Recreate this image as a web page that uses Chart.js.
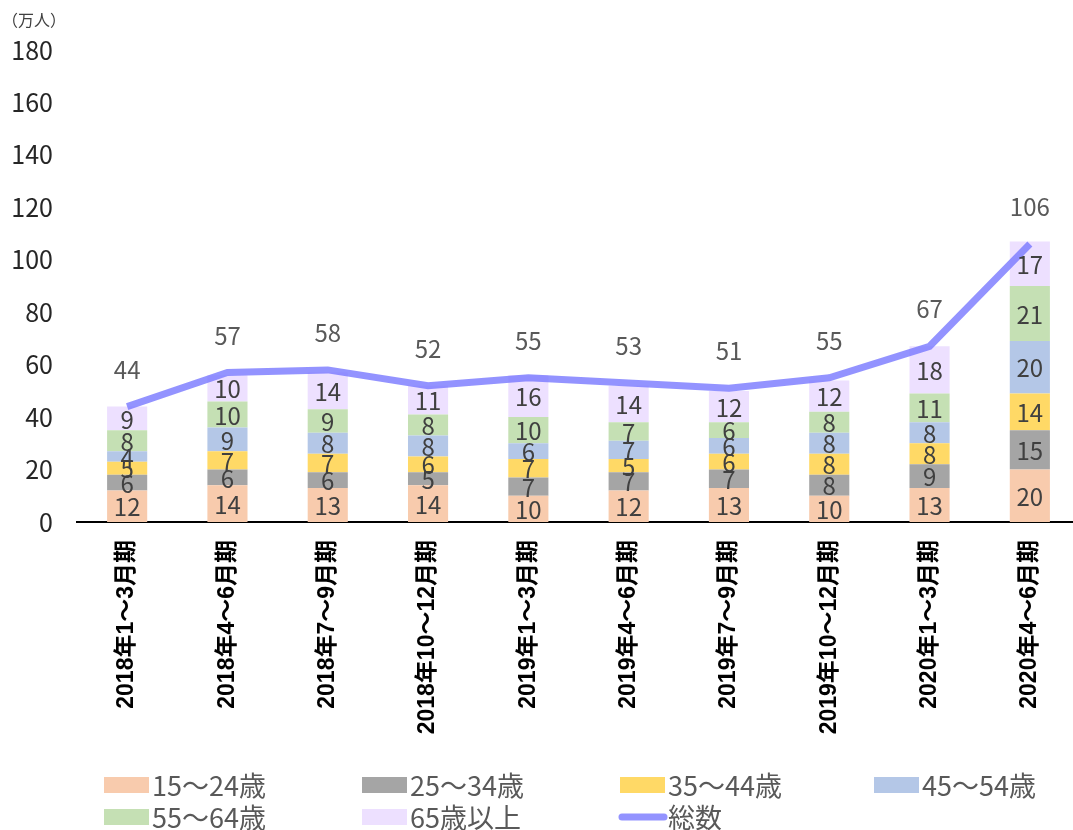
<!DOCTYPE html>
<html lang="ja">
<head>
<meta charset="utf-8">
<script src="https://cdn.jsdelivr.net/npm/chart.js@4.4.1/dist/chart.umd.min.js"></script>
<style>
  html, body { margin: 0; padding: 0; background: #fff; overflow: hidden; }
  #wrap { width: 1080px; height: 830px; }
</style>
</head>
<body>
<div id="wrap"><canvas id="chart" width="1080" height="830"></canvas></div>
<script>
/* ── Data ─────────────────────────────────────────────── */
const quarters = [
    '2018年1～3月期', '2018年4～6月期', '2018年7～9月期', '2018年10～12月期',
    '2019年1～3月期', '2019年4～6月期', '2019年7～9月期', '2019年10～12月期',
    '2020年1～3月期', '2020年4～6月期',
];
const age15to24 = [12, 14, 13, 14, 10, 12, 13, 10, 13, 20];
const age25to34 = [6, 6, 6, 5, 7, 7, 7, 8, 9, 15];
const age35to44 = [5, 7, 7, 6, 7, 5, 6, 8, 8, 14];
const age45to54 = [4, 9, 8, 8, 6, 7, 6, 8, 8, 20];
const age55to64 = [8, 10, 9, 8, 10, 7, 6, 8, 11, 21];
const age65plus = [9, 10, 14, 11, 16, 14, 12, 12, 18, 17];
const totals    = [44, 57, 58, 52, 55, 53, 51, 55, 67, 106];
const yTicks    = [0, 20, 40, 60, 80, 100, 120, 140, 160, 180];

/* ── Palette ─────────────────────────────────────────── */
const colors = {
    a15: '#f8cbad',
    a25: '#a5a5a5',
    a35: '#ffd966',
    a45: '#b4c7e7',
    a55: '#c5e0b4',
    a65: '#ede0ff',
    line: 'rgba(120, 120, 255, 0.8)',
    label: '#595959',
};
const jpFont = '"Noto Sans CJK JP", "Noto Sans", sans-serif';

function barSet(label, data, color) {
    return {
        type: 'bar', label, data,
        backgroundColor: color,
        stack: 'ages',
        order: 1,
        categoryPercentage: 1.0,
        barPercentage: 0.4,
    };
}

/* ── Value labels + unit + legend, drawn on canvas ──── */
const labelsPlugin = {
    id: 'valueLabels',
    afterDatasetsDraw(chart) {
        const ctx = chart.ctx;
        ctx.save();
        ctx.textAlign = 'center';
        ctx.textBaseline = 'middle';
        ctx.font = '24px ' + jpFont;
        chart.data.datasets.forEach((ds, i) => {
            const meta = chart.getDatasetMeta(i);
            meta.data.forEach((el, j) => {
                if (ds.type === 'bar') {
                    ctx.fillStyle = '#404040';
                    ctx.fillText(ds.data[j], el.x, (el.y + el.base) / 2 + 1);
                } else {
                    ctx.fillStyle = colors.label;
                    ctx.fillText(ds.data[j], el.x, el.y - 37);
                }
            });
        });
        ctx.restore();
    },
    afterDraw(chart) {
        const ctx = chart.ctx;
        ctx.save();
        // unit
        ctx.fillStyle = '#404040';
        ctx.font = '16px ' + jpFont;
        ctx.textBaseline = 'middle';
        ctx.textAlign = 'left';
        ctx.fillText('（万人）', 2, 20);

        // legend: 4 fixed columns, 2 rows, bars first then the line
        const cols = [104, 362, 620, 874];
        const rows = [785, 817];
        const items = chart.data.datasets.filter(d => d.type === 'bar')
            .concat(chart.data.datasets.filter(d => d.type !== 'bar'));
        ctx.font = '27px ' + jpFont;
        items.forEach((ds, i) => {
            const x = cols[i % 4];
            const y = rows[Math.floor(i / 4)];
            if (ds.type === 'bar') {
                ctx.fillStyle = ds.backgroundColor;
                ctx.fillRect(x, y - 8, 45, 16);
            } else {
                ctx.strokeStyle = ds.borderColor;
                ctx.lineWidth = 7;
                ctx.lineCap = 'round';
                ctx.beginPath();
                ctx.moveTo(x + 2, y);
                ctx.lineTo(x + 44, y);
                ctx.stroke();
            }
            ctx.fillStyle = colors.label;
            ctx.fillText(ds.label, x + 48, y + 1);
        });
        ctx.restore();
    },
};

new Chart(document.getElementById('chart'), {
    data: {
        labels: quarters,
        datasets: [
            {
                type: 'line', label: '総数', data: totals,
                borderColor: colors.line,
                backgroundColor: colors.line,
                borderWidth: 7,
                pointRadius: 0,
                tension: 0,
                stack: 'total',
                order: 0,
            },
            barSet('15～24歳', age15to24, colors.a15),
            barSet('25～34歳', age25to34, colors.a25),
            barSet('35～44歳', age35to44, colors.a35),
            barSet('45～54歳', age45to54, colors.a45),
            barSet('55～64歳', age55to64, colors.a55),
            barSet('65歳以上', age65plus, colors.a65),
        ],
    },
    options: {
        responsive: false,
        animation: false,
        layout: { padding: { top: 50, bottom: 80, left: 0, right: 0 } },
        plugins: {
            legend: { display: false },
            tooltip: { enabled: false },
        },
        scales: {
            x: {
                stacked: true,
                grid: { display: false },
                border: { display: true, color: '#000', width: 2 },
                ticks: {
                    color: '#000',
                    font: { family: '"Liberation Sans", "Noto Sans CJK JP", sans-serif', size: 23, weight: 'bold' },
                    minRotation: 90,
                    maxRotation: 90,
                    padding: 10,
                    autoSkip: false,
                },
                afterFit(scale) { scale.height = 228; },
            },
            y: {
                stacked: true,
                min: 0,
                max: 180,
                grid: { display: false, drawTicks: false },
                border: { display: false },
                afterBuildTicks(scale) { scale.ticks = yTicks.map(v => ({ value: v })); },
                ticks: {
                    color: '#262626',
                    font: { family: jpFont, size: 25 },
                    padding: 24,
                },
                afterFit(scale) { scale.width = 77; },
            },
        },
    },
    plugins: [labelsPlugin],
});
</script>
</body>
</html>
